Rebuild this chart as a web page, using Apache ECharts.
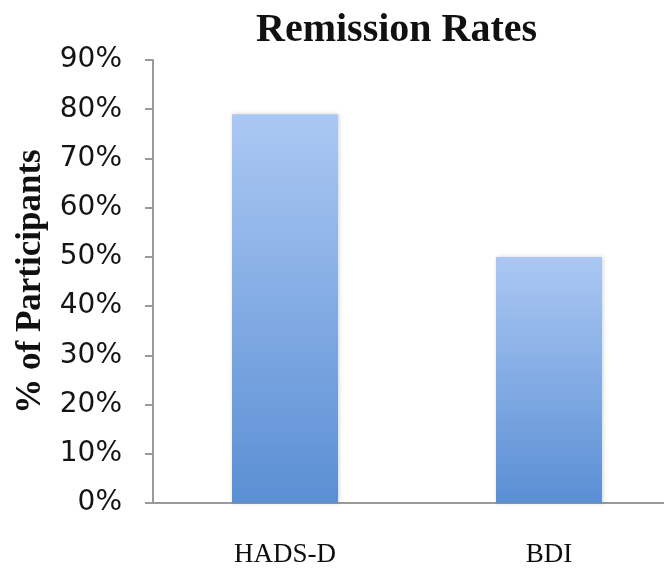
<!DOCTYPE html>
<html>
<head>
<meta charset="utf-8">
<script src="https://cdn.jsdelivr.net/npm/echarts@6/dist/echarts.min.js"></script>
<style>
  html, body { margin: 0; padding: 0; background: #fff; }
  #chart { width: 664px; height: 576px; }
</style>
</head>
<body>
<div id="chart"></div>
<script>
// Remission rates by depression scale
const categories = ['HADS-D', 'BDI'];
const remissionPct = [79, 50];
const yMin = 0, yMax = 90, yStep = 10;

const chart = echarts.init(document.getElementById('chart'), null, { renderer: 'canvas' });

chart.setOption({
  backgroundColor: '#ffffff',
  animation: false,
  title: {
    text: 'Remission Rates',
    left: 251,
    top: 6,
    textStyle: {
      fontFamily: '"Liberation Serif", "Times New Roman", serif',
      fontWeight: 'bold',
      fontSize: 40,
      color: '#111'
    }
  },
  // plot area runs past the right edge of the canvas
  grid: { left: 153, top: 60, right: -17, bottom: 73, containLabel: false, outerBoundsMode: 'none' },
  xAxis: {
    type: 'category',
    data: categories,
    boundaryGap: true,
    axisLine: { show: true, lineStyle: { color: '#9a9a9a', width: 2 } },
    axisTick: { show: false },
    axisLabel: {
      margin: 38,
      fontFamily: '"Liberation Serif", "Times New Roman", serif',
      fontSize: 27,
      color: '#0d0d0d'
    }
  },
  yAxis: {
    type: 'value',
    min: yMin,
    max: yMax,
    interval: yStep,
    name: '% of Participants',
    nameLocation: 'middle',
    nameRotate: 90,
    nameGap: 101,
    nameTextStyle: {
      fontFamily: '"Liberation Serif", "Times New Roman", serif',
      fontWeight: 'bold',
      fontSize: 35,
      color: '#111'
    },
    axisLine: { show: true, lineStyle: { color: '#9a9a9a', width: 2 } },
    axisTick: { show: true, inside: false, length: 8, lineStyle: { color: '#9a9a9a', width: 2 } },
    splitLine: { show: false },
    axisLabel: {
      margin: 31,
      formatter: '{value}%',
      fontFamily: '"DejaVu Sans", "Liberation Sans", sans-serif',
      fontSize: 28,
      color: '#141414',
      padding: [7, 0, 0, 0]
    }
  },
  series: [{
    type: 'bar',
    data: remissionPct,
    barWidth: 106,
    itemStyle: {
      color: new echarts.graphic.LinearGradient(0, 0, 0, 1, [
        { offset: 0, color: '#abc8f3' },
        { offset: 1, color: '#5a8fd4' }
      ]),
      shadowColor: 'rgba(0,0,0,0.18)',
      shadowBlur: 4,
      shadowOffsetX: 1,
      shadowOffsetY: 0
    }
  }]
});
</script>
</body>
</html>
